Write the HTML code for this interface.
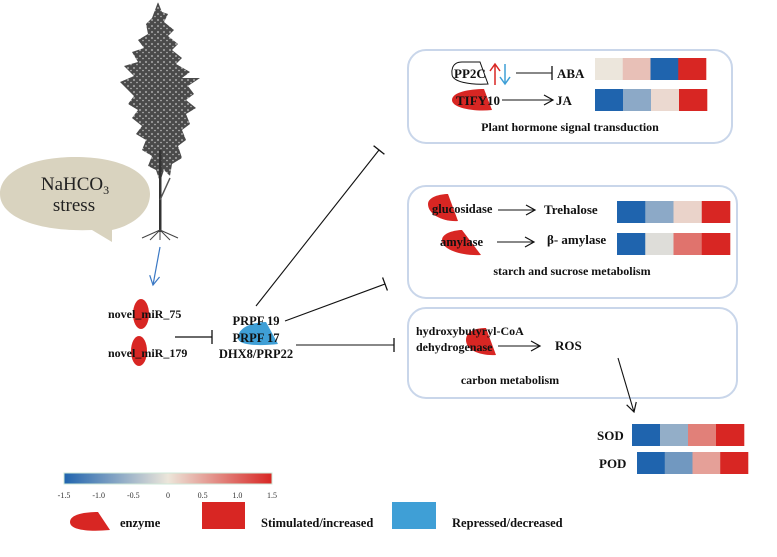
<!DOCTYPE html>
<html><head><meta charset="utf-8"><style>
html,body{margin:0;padding:0;background:#fff}
svg{display:block;font-family:"Liberation Serif",serif}
.b{font-weight:bold;fill:#111}
</style></head><body>
<svg id="fig" width="777" height="557" viewBox="0 0 777 557">
<defs>
<marker id="ah" markerWidth="12" markerHeight="12" refX="10" refY="6" orient="auto" markerUnits="userSpaceOnUse"><path d="M1,1 L10,6 L1,11" fill="none" stroke="#111" stroke-width="1.2"/></marker>
<marker id="bah" markerWidth="12" markerHeight="12" refX="10" refY="6" orient="auto" markerUnits="userSpaceOnUse"><path d="M1,1 L10,6 L1,11" fill="none" stroke="#3a78c4" stroke-width="1.2"/></marker>
<marker id="bar" markerWidth="4" markerHeight="14" refX="2" refY="7" orient="auto" markerUnits="userSpaceOnUse"><line x1="2" y1="0" x2="2" y2="14" stroke="#111" stroke-width="1.3"/></marker>
<linearGradient id="cb" x1="0" x2="1"><stop offset="0" stop-color="#1f64ae"/><stop offset="0.5" stop-color="#ece6da"/><stop offset="1" stop-color="#d82623"/></linearGradient>
<pattern id="leaf" width="6" height="6" patternUnits="userSpaceOnUse"><rect width="6" height="6" fill="#4a4a4a"/><circle cx="2" cy="2" r="1.1" fill="#9a9a9a"/><circle cx="5" cy="4.5" r="0.8" fill="#bbb"/></pattern>
</defs>

<!-- tree -->
<g>
<path d="M158,2 L162,12 L168,14 L164,22 L174,30 L168,36 L178,44 L172,50 L182,58 L176,64 L190,72 L182,78 L200,78 L188,86 L194,94 L186,100 L196,108 L186,114 L190,124 L182,130 L186,140 L178,146 L182,158 L172,164 L170,176 L164,170 L160,182 L156,170 L148,166 L152,156 L142,150 L146,140 L136,134 L142,126 L132,118 L138,110 L128,104 L134,96 L120,82 L134,76 L124,66 L138,62 L132,52 L144,48 L138,40 L148,34 L146,24 L152,18 Z" fill="url(#leaf)"/>
<rect x="159" y="150" width="2.5" height="82" fill="#333"/>
<path d="M160,200 L170,178" stroke="#555" stroke-width="1.5"/>
<path d="M160,230 L142,238 M160,230 L178,238 M160,230 L150,240 M160,230 L170,240 M160,230 L160,240" stroke="#444" stroke-width="1" fill="none"/>
</g>

<!-- bubble -->
<g>
<path d="M75,157 C120,157 150,172 150,194 C150,214 130,226 112,230 L112,242 L92,230 C40,232 0,218 0,194 C0,170 35,157 75,157 Z" fill="#d9d3bf"/>
<text x="75" y="190" font-size="19" text-anchor="middle" fill="#222">NaHCO<tspan font-size="12" dy="4">3</tspan></text>
<text x="74" y="211" font-size="19" text-anchor="middle" fill="#222">stress</text>
</g>
<line x1="160" y1="247" x2="153" y2="285" stroke="#3a78c4" stroke-width="1.2" marker-end="url(#bah)"/>

<!-- miRNAs -->
<g>
<ellipse cx="141" cy="314" rx="8" ry="15" fill="#d82623"/>
<ellipse cx="139" cy="351" rx="8" ry="15" fill="#d82623"/>
<text x="108" y="318" class="b" font-size="12">novel_miR_75</text>
<text x="108" y="357" class="b" font-size="12">novel_miR_179</text>
</g>
<line x1="175" y1="337" x2="212" y2="337" stroke="#111" stroke-width="1.2" marker-end="url(#bar)"/>

<!-- PRPF -->
<g>
<path d="M238,338 C238,326 256,322 266,322 L278,344 C262,346 238,346 238,338 Z" fill="#3f9fd6"/>
<text x="256" y="325" class="b" font-size="12.5" text-anchor="middle">PRPF 19</text>
<text x="256" y="342" class="b" font-size="12.5" text-anchor="middle">PRPF 17</text>
<text x="256" y="358" class="b" font-size="12.5" text-anchor="middle">DHX8/PRP22</text>
</g>
<line x1="256" y1="306" x2="379" y2="150" stroke="#111" stroke-width="1.1" marker-end="url(#bar)"/>
<line x1="285" y1="321" x2="385" y2="284" stroke="#111" stroke-width="1.1" marker-end="url(#bar)"/>
<line x1="296" y1="345" x2="394" y2="345" stroke="#111" stroke-width="1.1" marker-end="url(#bar)"/>

<!-- boxes -->
<rect x="408" y="50" width="324" height="93" rx="18" fill="none" stroke="#c9d6ea" stroke-width="2"/>
<rect x="408" y="186" width="329" height="112" rx="18" fill="none" stroke="#c9d6ea" stroke-width="2"/>
<rect x="408" y="308" width="329" height="90" rx="18" fill="none" stroke="#c9d6ea" stroke-width="2"/>

<!-- hormone -->
<g>
<path d="M462,62 C450,62 452,74 452,74 C452,82 470,85 488,84 L480,62 Z" fill="none" stroke="#111" stroke-width="1"/>
<text x="454" y="78" class="b" font-size="13">PP2C</text>
<path d="M495,85 L495,65 M490,71 L495,64 L500,71" stroke="#d82623" stroke-width="1.5" fill="none"/>
<path d="M505,64 L505,83 M500,77 L505,84 L510,77" stroke="#3f9fd6" stroke-width="1.5" fill="none"/>
</g>
<line x1="516" y1="73" x2="552" y2="73" stroke="#111" stroke-width="1.1" marker-end="url(#bar)"/>
<text x="557" y="78" class="b" font-size="13">ABA</text>
<path d="M452,100 C452,92 470,89 484,89 L492,110 C474,112 452,108 452,100 Z" fill="#d82623"/>
<text x="456" y="105" class="b" font-size="13">TIFY10</text>
<line x1="502" y1="100" x2="553" y2="100" stroke="#111" stroke-width="1.1" marker-end="url(#ah)"/>
<text x="556" y="105" class="b" font-size="13">JA</text>
<text x="570" y="131" class="b" font-size="12" text-anchor="middle">Plant hormone signal transduction</text>

<!-- starch -->
<path d="M428,204 C428,197 440,194 448,194 L458,221 C442,222 428,214 428,204 Z" fill="#d82623"/>
<text x="432" y="213" class="b" font-size="12.5">glucosidase</text>
<line x1="498" y1="210" x2="535" y2="210" stroke="#111" stroke-width="1.1" marker-end="url(#ah)"/>
<text x="544" y="214" class="b" font-size="13">Trehalose</text>
<path d="M442,240 C442,233 455,230 462,230 L481,255 C462,256 442,250 442,240 Z" fill="#d82623"/>
<text x="440" y="246" class="b" font-size="12.5">amylase</text>
<line x1="497" y1="242" x2="534" y2="242" stroke="#111" stroke-width="1.1" marker-end="url(#ah)"/>
<text x="547" y="244" class="b" font-size="13">β- amylase</text>
<text x="572" y="275" class="b" font-size="12" text-anchor="middle">starch and sucrose metabolism</text>

<!-- carbon -->
<path d="M466,340 C466,330 478,328 486,328 L496,355 C480,356 466,350 466,340 Z" fill="#d82623"/>
<text x="416" y="335" class="b" font-size="12">hydroxybutyryl-CoA</text>
<text x="416" y="351" class="b" font-size="12">dehydrogenase</text>
<line x1="498" y1="346" x2="540" y2="346" stroke="#111" stroke-width="1.1" marker-end="url(#ah)"/>
<text x="555" y="350" class="b" font-size="13">ROS</text>
<text x="510" y="384" class="b" font-size="12" text-anchor="middle">carbon metabolism</text>
<line x1="618" y1="358" x2="634" y2="412" stroke="#111" stroke-width="1.1" marker-end="url(#ah)"/>
<text x="597" y="440" class="b" font-size="13">SOD</text>
<text x="599" y="468" class="b" font-size="13">POD</text>

<g id="heat"></g>

<!-- colorbar -->
<g>
<rect x="64" y="473" width="208" height="11" fill="url(#cb)" stroke="#cfe8d8" stroke-width="1"/>
<g id="cbticks" font-size="8" fill="#333" text-anchor="middle"></g>
</g>

<!-- legend -->
<g>
<path d="M70,522 C70,514 86,512 98,512 L110,530 C88,532 70,530 70,522 Z" fill="#d82623"/>
<text x="120" y="527" class="b" font-size="12.5">enzyme</text>
<rect x="202" y="502" width="43" height="27" fill="#d82623"/>
<text x="261" y="527" class="b" font-size="12.5">Stimulated/increased</text>
<rect x="392" y="502" width="44" height="27" fill="#3f9fd6"/>
<text x="452" y="527" class="b" font-size="12.5">Repressed/decreased</text>
</g>
</svg>
<script>
const rowNames = ["ABA","JA","Trehalose","beta-amylase","SOD","POD"];
const valABA = [0.0, 0.3, -1.5, 1.5];
const valJA = [-1.5, -0.7, 0.1, 1.5];
const valTrehalose = [-1.5, -0.7, 0.15, 1.5];
const valAmylase = [-1.5, -0.1, 0.9, 1.5];
const valSOD = [-1.5, -0.65, 0.8, 1.5];
const valPOD = [-1.5, -0.9, 0.55, 1.5];
const cbTicks = ["-1.5","-1.0","-0.5","0","0.5","1.0","1.5"];
const cbTickVals = [-1.5,-1.0,-0.5,0,0.5,1.0,1.5];

const rows = [
  {v: valABA, x: 595, y: 58, w: 111, h: 22},
  {v: valJA, x: 595, y: 89, w: 112, h: 22},
  {v: valTrehalose, x: 617, y: 201, w: 113, h: 22},
  {v: valAmylase, x: 617, y: 233, w: 113, h: 22},
  {v: valSOD, x: 632, y: 424, w: 112, h: 22},
  {v: valPOD, x: 637, y: 452, w: 111, h: 22}
];
function lerp(a,b,t){return Math.round(a+(b-a)*t);}
function color(v){
  const t = Math.max(-1, Math.min(1, v/1.5));
  const mid=[236,230,220], lo=[31,100,174], hi=[216,38,35];
  const e = t<0 ? lo : hi, a=Math.abs(t);
  return `rgb(${lerp(mid[0],e[0],a)},${lerp(mid[1],e[1],a)},${lerp(mid[2],e[2],a)})`;
}
const NS="http://www.w3.org/2000/svg";
const heat=document.getElementById('heat');
rows.forEach((r,ri)=>{
  const cw=r.w/r.v.length;
  r.v.forEach((val,ci)=>{
    const c=document.createElementNS(NS,'rect');
    c.setAttribute('x',r.x+ci*cw);c.setAttribute('y',r.y);
    c.setAttribute('width',cw+0.3);c.setAttribute('height',r.h);
    c.setAttribute('fill',color(val));
    
    
    heat.appendChild(c);
  });
});
const cbx=v=>64+(v+1.5)/3*208;
const tg=document.getElementById('cbticks');
cbTickVals.forEach((v,i)=>{
  const t=document.createElementNS(NS,'text');
  t.setAttribute('x',cbx(v));t.setAttribute('y',498);
  t.textContent=cbTicks[i];
  
  
  tg.appendChild(t);
});
</script>
</body></html>
